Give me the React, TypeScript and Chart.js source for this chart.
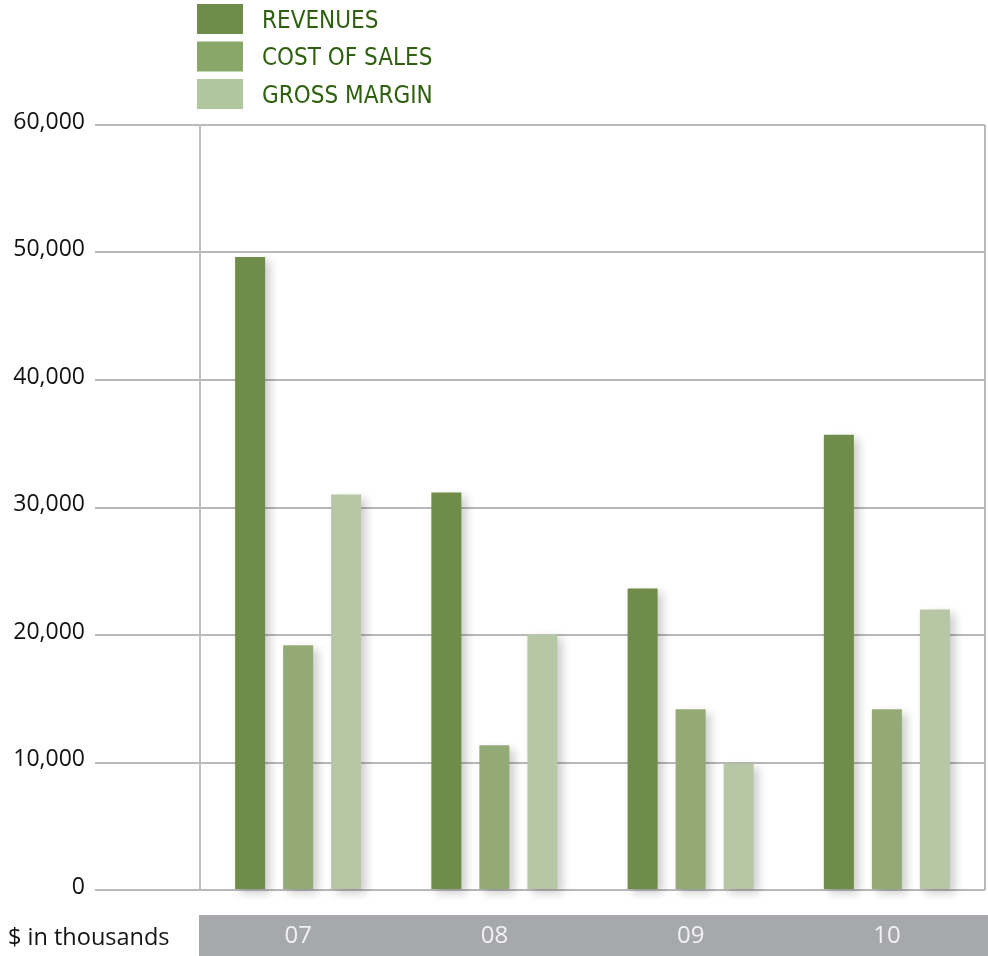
import React, { useEffect, useRef } from 'react';
import { Chart, registerables } from 'chart.js';

Chart.register(...registerables);

const categories = ['07', '08', '09', '10'];
const seriesLabels = ['REVENUES', 'COST OF SALES', 'GROSS MARGIN'];
const revenues = [49650, 31170, 23650, 35710];
const costOfSales = [19190, 11350, 14170, 14170];
const grossMargin = [31010, 20070, 9920, 22000];
const yMin = 0;
const yMax = 60000;
const yStep = 10000;
const unitNote = '$ in thousands';

const barColors = ['#6f8c4b', '#94aa76', '#b7c6a5'];
const legendColors = ['#6e8c4a', '#8aa76a', '#b0c69c'];

const decorPlugin = {
  id: 'decor',
  beforeDraw(chart: any) {
    const { ctx, chartArea } = chart;
    const xs = chart.scales.x;
    ctx.save();
    ctx.fillStyle = '#a7a8ab';
    ctx.fillRect(chartArea.left - 1, xs.top + 25, chart.width - chartArea.left + 1, chart.height - xs.top - 25);
    ctx.fillStyle = '#141414';
    ctx.font = '23.5px "Open Sans"';
    ctx.textBaseline = 'alphabetic';
    ctx.textAlign = 'left';
    ctx.fillText(unitNote, 8, 945);
    ctx.restore();
  },
  beforeDatasetsDraw(chart: any) {
    const { ctx } = chart;
    ctx.save();
    ctx.shadowColor = 'rgba(0,0,0,0.2)';
    ctx.shadowBlur = 10;
    ctx.shadowOffsetX = 5;
    ctx.shadowOffsetY = 4;
  },
  afterDatasetsDraw(chart: any) {
    chart.ctx.restore();
  },
  afterDraw(chart: any) {
    const { ctx, chartArea } = chart;
    ctx.save();
    // right frame line
    ctx.strokeStyle = '#b8b8b8';
    ctx.lineWidth = 2;
    ctx.beginPath();
    ctx.moveTo(chartArea.right, chartArea.top);
    ctx.lineTo(chartArea.right, chartArea.bottom);
    ctx.stroke();
    // legend
    ctx.font = '24px "DejaVu Sans Condensed", sans-serif';
    ctx.textBaseline = 'alphabetic';
    ctx.textAlign = 'left';
    chart.data.datasets.forEach((ds: any, i: number) => {
      const y = 4 + i * 37.5;
      ctx.fillStyle = legendColors[i];
      ctx.fillRect(197, y, 46, 30);
      ctx.fillStyle = '#2f6010';
      ctx.fillText(ds.label, 262, y + 23.5);
    });
    ctx.restore();
  },
};

export default function App() {
  const ref = useRef<HTMLCanvasElement>(null);
  useEffect(() => {
    const canvas = ref.current;
    if (!canvas) return;
    const series = [revenues, costOfSales, grossMargin];
    const chart = new Chart(canvas, {
      type: 'bar',
      data: {
        labels: categories,
        datasets: series.map((d, i) => ({
          label: seriesLabels[i],
          data: d,
          backgroundColor: barColors[i],
          borderWidth: 0,
          categoryPercentage: 0.734,
          barPercentage: 0.625,
          clip: false as any,
        })),
      },
      options: {
        animation: false,
        responsive: false,
        maintainAspectRatio: false,
        layout: { padding: { top: 125, right: 3, left: 0, bottom: 0 } },
        plugins: { legend: { display: false }, tooltip: { enabled: false } },
        scales: {
          x: {
            type: 'category',
            offset: true,
            grid: { display: false, drawTicks: false },
            border: { display: false },
            ticks: {
              color: '#f2f2f2',
              font: { family: '"Open Sans"', size: 24 },
              padding: 32,
              maxRotation: 0,
            },
            afterFit: (s: any) => {
              s.height = 66;
            },
          },
          y: {
            min: yMin,
            max: yMax,
            z: 1,
            grid: {
              color: '#b8b8b8',
              lineWidth: 2,
              drawTicks: true,
              tickLength: 105,
              tickColor: '#b8b8b8',
            },
            border: { display: true, color: '#bdbdbd', width: 2 },
            ticks: {
              stepSize: yStep,
              color: '#111111',
              font: { family: '"Open Sans"', size: 23 },
              padding: 10,
              labelOffset: -3,
              callback: (v: any) => Number(v).toLocaleString('en-US'),
            },
            afterFit: (s: any) => {
              s.width = 200;
            },
          },
        },
      },
      plugins: [decorPlugin],
    });
    return () => chart.destroy();
  }, []);
  return (
    <div style={{ position: 'absolute', left: 0, top: 0, width: 988, height: 956 }}>
      <canvas ref={ref} width={988} height={956} />
    </div>
  );
}
